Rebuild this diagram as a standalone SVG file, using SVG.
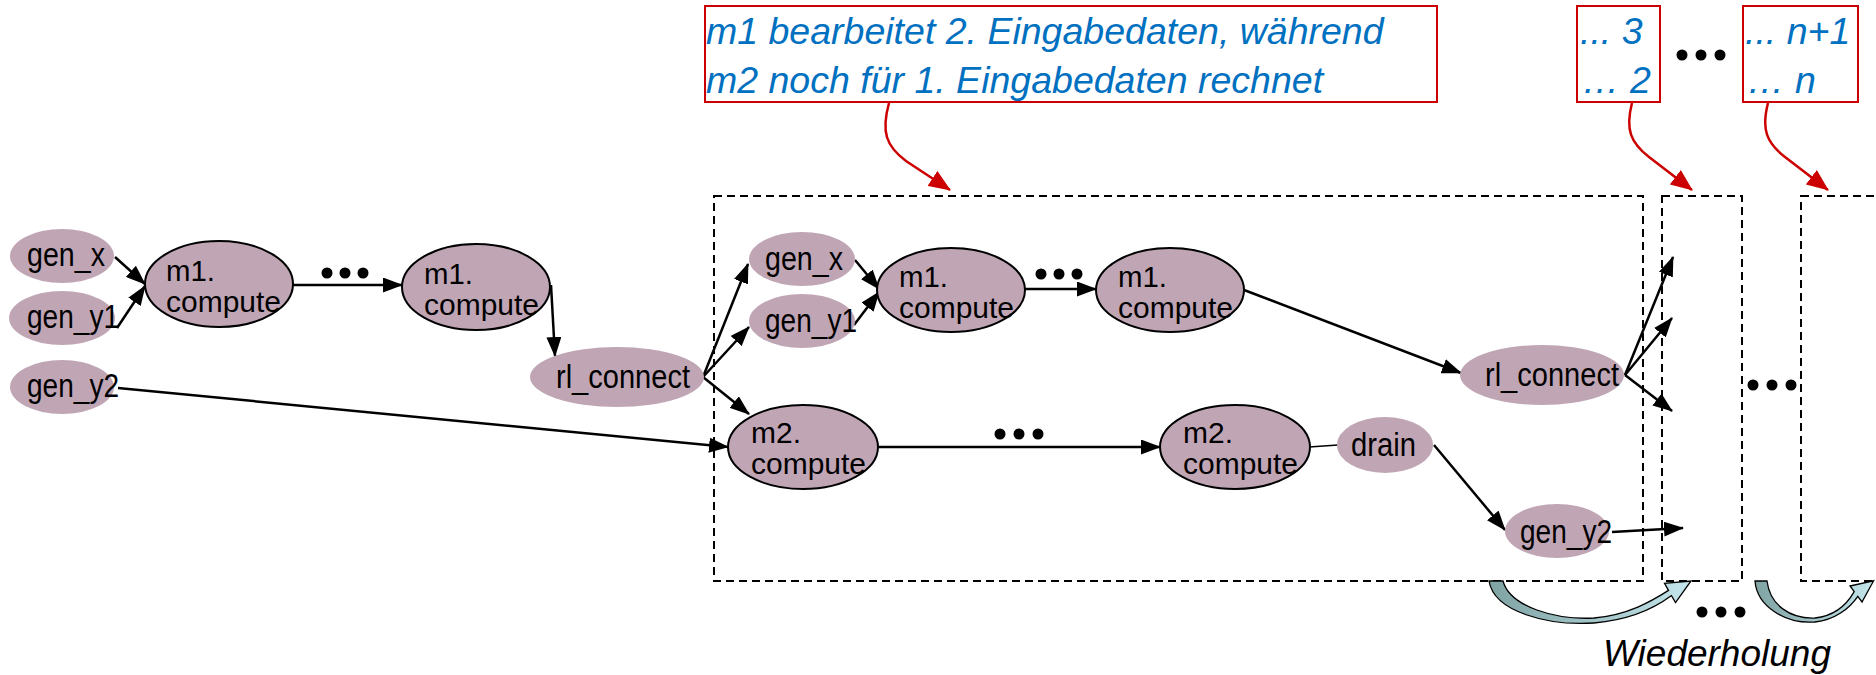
<svg xmlns="http://www.w3.org/2000/svg" width="1876" height="675" viewBox="0 0 1876 675">
<style>
.nd{fill:#C0A6B5}
.cn{fill:#C0A6B5;stroke:#000;stroke-width:2}
.lbl{font-family:"Liberation Sans",Arial,sans-serif;font-size:33px;fill:#000}
.lbl2{font-family:"Liberation Sans",Arial,sans-serif;font-size:30px;fill:#000}
.edge{stroke:#000;stroke-width:2.5;fill:none;marker-end:url(#ah)}
.plain{stroke:#000;stroke-width:1.5;fill:none}
.dash{fill:none;stroke:#000;stroke-width:2;stroke-dasharray:8 5}
.callout{fill:#fff;stroke:#CC0000;stroke-width:2}
.ctext{font-family:"Liberation Sans",Arial,sans-serif;font-style:italic;font-size:37.5px;fill:#0070C0}
.red{stroke:#CC0000;stroke-width:2.5;fill:none;marker-end:url(#rah)}
.dot{fill:#000}
.rep{fill:url(#tg);stroke:#000;stroke-width:1.3}
.wtext{font-family:"Liberation Sans",Arial,sans-serif;font-style:italic;font-size:37px;fill:#000}
</style>
<defs>
<marker id="ah" markerUnits="userSpaceOnUse" markerWidth="20" markerHeight="15" refX="19" refY="7.5" orient="auto">
<path d="M0,0 L20,7.5 L0,15 z" fill="#000"/>
</marker>
<marker id="rah" markerUnits="userSpaceOnUse" markerWidth="22" markerHeight="18" refX="21" refY="9" orient="auto">
<path d="M0,0 L22,9 L0,18 z" fill="#CC0000"/>
</marker>
<linearGradient id="tg" x1="0" y1="0" x2="1" y2="0">
<stop offset="0" stop-color="#7FA2A3"/>
<stop offset="1" stop-color="#C4E6EC"/>
</linearGradient>
</defs>

<!-- dashed stage boxes -->
<g id="stages">
<rect class="dash" x="714" y="196" width="929" height="385"/>
<rect class="dash" x="1662" y="196" width="80" height="385"/>
<rect class="dash" x="1801" y="196" width="90" height="385"/>
</g>

<!-- callouts -->
<g id="callout1">
<rect class="callout" x="705" y="6" width="732" height="96"/>
<text class="ctext" x="706" y="44">m1 bearbeitet 2. Eingabedaten, während</text>
<text class="ctext" x="706" y="93">m2 noch für 1. Eingabedaten rechnet</text>
</g>
<g id="callout2">
<rect class="callout" x="1577" y="6" width="83" height="96"/>
<text class="ctext" x="1580" y="44">... 3</text>
<text class="ctext" x="1582" y="93">… 2</text>
</g>
<g id="callout3">
<rect class="callout" x="1743" y="6" width="115" height="96"/>
<text class="ctext" x="1745" y="44">... n+1</text>
<text class="ctext" x="1747" y="93">… n</text>
</g>

<!-- connectors -->
<g id="connectors">
<path class="red" d="M889,103 C881,132 886,146 906,161 L950,190"/>
<path class="red" d="M1632,103 C1625,130 1631,143 1649,157 L1692,190"/>
<path class="red" d="M1768,103 C1761,130 1767,143 1785,157 L1828,190"/>

<line class="edge" x1="115" y1="257" x2="145" y2="284"/>
<line class="edge" x1="117" y1="328" x2="145" y2="286"/>
<line class="edge" x1="293" y1="285" x2="402" y2="285"/>
<line class="edge" x1="551" y1="285" x2="555" y2="356"/>
<line class="edge" x1="118" y1="388" x2="728" y2="447"/>
<line class="edge" x1="703" y1="377" x2="748" y2="264"/>
<line class="edge" x1="703" y1="377" x2="749" y2="327"/>
<line class="edge" x1="703" y1="377" x2="749" y2="414"/>
<line class="edge" x1="855" y1="260" x2="879" y2="289"/>
<line class="edge" x1="854" y1="325" x2="879" y2="292"/>
<line class="edge" x1="1025" y1="289" x2="1096" y2="289"/>
<line class="edge" x1="1244" y1="290" x2="1461" y2="373"/>
<line class="edge" x1="878" y1="447" x2="1160" y2="447"/>
<line class="plain" x1="1309" y1="447" x2="1338" y2="445"/>
<line class="edge" x1="1434" y1="445" x2="1505" y2="530"/>
<line class="edge" x1="1612" y1="532" x2="1683" y2="528"/>
<line class="edge" x1="1625" y1="375" x2="1673" y2="257"/>
<line class="edge" x1="1625" y1="375" x2="1672" y2="318"/>
<line class="edge" x1="1625" y1="375" x2="1672" y2="411"/>
</g>

<!-- ellipsis dots -->
<g id="dots">
<circle class="dot" cx="327" cy="273" r="5.5"/><circle class="dot" cx="345" cy="273" r="5.5"/><circle class="dot" cx="363" cy="273" r="5.5"/>
<circle class="dot" cx="1041" cy="274" r="5.5"/><circle class="dot" cx="1059" cy="274" r="5.5"/><circle class="dot" cx="1077" cy="274" r="5.5"/>
<circle class="dot" cx="1000" cy="434" r="5.5"/><circle class="dot" cx="1019" cy="434" r="5.5"/><circle class="dot" cx="1038" cy="434" r="5.5"/>
<circle class="dot" cx="1753" cy="385" r="5.5"/><circle class="dot" cx="1772" cy="385" r="5.5"/><circle class="dot" cx="1791" cy="385" r="5.5"/>
<circle class="dot" cx="1682" cy="55" r="5.5"/><circle class="dot" cx="1701" cy="55" r="5.5"/><circle class="dot" cx="1720" cy="55" r="5.5"/>
<circle class="dot" cx="1702" cy="612" r="5.5"/><circle class="dot" cx="1721" cy="612" r="5.5"/><circle class="dot" cx="1740" cy="612" r="5.5"/>
</g>

<!-- left nodes -->
<g id="gen_x_1"><ellipse class="nd" cx="62" cy="256" rx="52" ry="27"/><text class="lbl" x="27" y="266" textLength="78" lengthAdjust="spacingAndGlyphs">gen_x</text></g>
<g id="gen_y1_1"><ellipse class="nd" cx="62" cy="318" rx="53" ry="27"/><text class="lbl" x="27" y="328" textLength="92" lengthAdjust="spacingAndGlyphs">gen_y1</text></g>
<g id="gen_y2_1"><ellipse class="nd" cx="62" cy="387" rx="52" ry="27"/><text class="lbl" x="27" y="397" textLength="92" lengthAdjust="spacingAndGlyphs">gen_y2</text></g>
<g id="m1_compute_1"><ellipse class="cn" cx="219" cy="284" rx="74" ry="43"/><text class="lbl2" x="166" y="281" textLength="49" lengthAdjust="spacingAndGlyphs">m1.</text><text class="lbl2" x="166" y="312" textLength="115" lengthAdjust="spacingAndGlyphs">compute</text></g>
<g id="m1_compute_2"><ellipse class="cn" cx="476" cy="287" rx="74" ry="43"/><text class="lbl2" x="424" y="284" textLength="49" lengthAdjust="spacingAndGlyphs">m1.</text><text class="lbl2" x="424" y="315" textLength="115" lengthAdjust="spacingAndGlyphs">compute</text></g>
<g id="rl_connect_1"><ellipse class="nd" cx="617" cy="377" rx="87" ry="30"/><text class="lbl" x="556" y="388" textLength="134" lengthAdjust="spacingAndGlyphs">rl_connect</text></g>

<!-- stage nodes -->
<g id="gen_x_2"><ellipse class="nd" cx="802" cy="259" rx="53" ry="27"/><text class="lbl" x="765" y="270" textLength="78" lengthAdjust="spacingAndGlyphs">gen_x</text></g>
<g id="gen_y1_2"><ellipse class="nd" cx="802" cy="321" rx="53" ry="27"/><text class="lbl" x="765" y="332" textLength="92" lengthAdjust="spacingAndGlyphs">gen_y1</text></g>
<g id="m1_compute_3"><ellipse class="cn" cx="951" cy="290" rx="74" ry="42"/><text class="lbl2" x="899" y="287" textLength="49" lengthAdjust="spacingAndGlyphs">m1.</text><text class="lbl2" x="899" y="318" textLength="115" lengthAdjust="spacingAndGlyphs">compute</text></g>
<g id="m1_compute_4"><ellipse class="cn" cx="1170" cy="290" rx="74" ry="42"/><text class="lbl2" x="1118" y="287" textLength="49" lengthAdjust="spacingAndGlyphs">m1.</text><text class="lbl2" x="1118" y="318" textLength="115" lengthAdjust="spacingAndGlyphs">compute</text></g>
<g id="rl_connect_2"><ellipse class="nd" cx="1542" cy="375" rx="82" ry="30"/><text class="lbl" x="1485" y="386" textLength="134" lengthAdjust="spacingAndGlyphs">rl_connect</text></g>
<g id="m2_compute_1"><ellipse class="cn" cx="803" cy="447" rx="75" ry="42"/><text class="lbl2" x="751" y="443" textLength="50" lengthAdjust="spacingAndGlyphs">m2.</text><text class="lbl2" x="751" y="474" textLength="115" lengthAdjust="spacingAndGlyphs">compute</text></g>
<g id="m2_compute_2"><ellipse class="cn" cx="1235" cy="447" rx="75" ry="42"/><text class="lbl2" x="1183" y="443" textLength="50" lengthAdjust="spacingAndGlyphs">m2.</text><text class="lbl2" x="1183" y="474" textLength="115" lengthAdjust="spacingAndGlyphs">compute</text></g>
<g id="drain"><ellipse class="nd" cx="1385" cy="445" rx="48" ry="28"/><text class="lbl" x="1351" y="456" textLength="65" lengthAdjust="spacingAndGlyphs">drain</text></g>
<g id="gen_y2_2"><ellipse class="nd" cx="1557" cy="531" rx="52" ry="27"/><text class="lbl" x="1520" y="543" textLength="92" lengthAdjust="spacingAndGlyphs">gen_y2</text></g>

<!-- repetition arrows -->
<g id="repeat">
<path class="rep" d="M1489,581 C1494,612 1548,626 1594,623 C1630,620 1655,608 1671.5,595.6 L1675.5,602.6 L1691,581 L1664.5,583.4 L1668.5,590.4 C1652,601 1628,615 1594,618 C1556,620 1510,607 1503,581 Z"/>
<path class="rep" d="M1755,581 C1757,607 1786,624 1815,622 C1835,620 1850,608 1857.8,596.4 L1862,602 L1873.6,580.8 L1850,586 L1854.2,591.6 C1846,606 1833,616 1815,618 C1790,619 1770,605 1767,581 Z"/>
<text class="wtext" x="1603" y="666">Wiederholung</text>
</g>
</svg>
